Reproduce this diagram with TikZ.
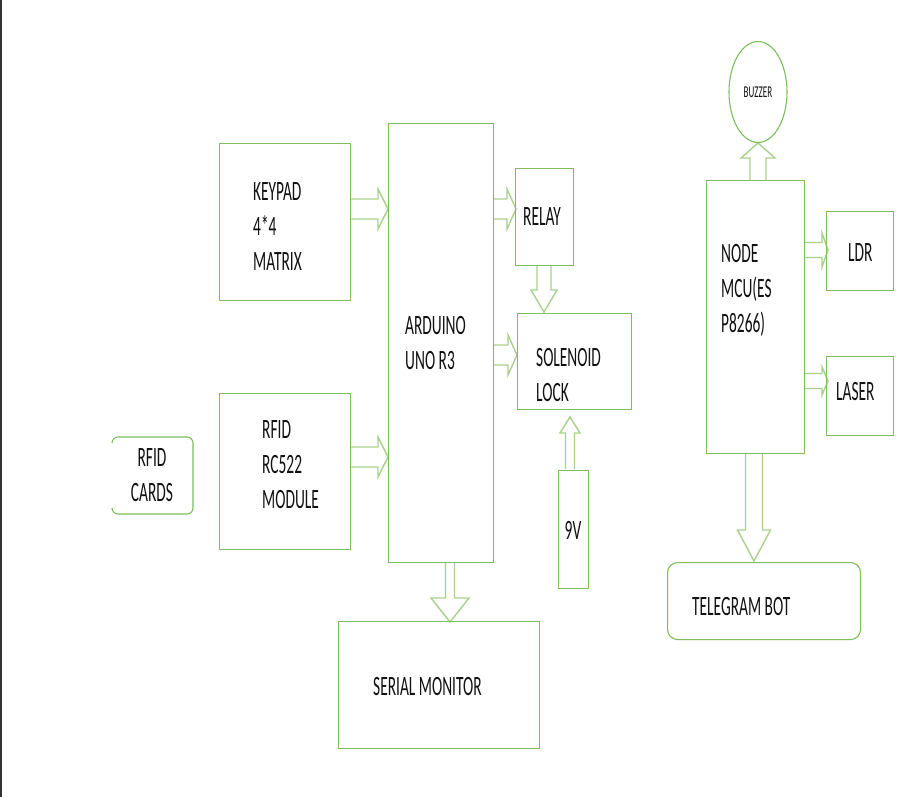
\documentclass[tikz,border=0pt]{standalone}
\usepackage{fontspec}
\usetikzlibrary{shapes.geometric}
\newfontfamily\cf[FakeStretch=0.55]{Carlito}
\definecolor{boxg}{HTML}{7DBE5A}
\definecolor{arrg}{HTML}{A9D18E}
\definecolor{txt}{HTML}{111111}
% horizontal block arrow pointing right: start x, tip x, y, shaft half width, head half width, head length
\newcommand\arR[6]{\draw[barrow] (#1,#3-#4) -- ({#2-(#6)},#3-#4) -- ({#2-(#6)},#3-#5) -- (#2,#3) -- ({#2-(#6)},#3+#5) -- ({#2-(#6)},#3+#4) -- (#1,#3+#4);}
% vertical block arrow: start y, tip y, x, shaft half width, head half width, head length (negative = upward)
\newcommand\arD[6]{\draw[barrow] (#3-#4,#1) -- (#3-#4,{#2-(#6)}) -- (#3-#5,{#2-(#6)}) -- (#3,#2) -- (#3+#5,{#2-(#6)}) -- (#3+#4,{#2-(#6)}) -- (#3+#4,#1);}
\begin{document}
\begin{tikzpicture}[x=1pt,y=-1pt,
  box/.style={draw=boxg,line width=1.1pt,inner sep=0,anchor=north west},
  lbl/.style={font=\cf\fontsize{28}{35}\selectfont,text=txt,align=left,anchor=west,inner sep=0},
  barrow/.style={draw=arrg,line width=1.4pt,fill=white,line join=miter}]
\useasboundingbox (0,0) rectangle (916,797);
\fill[white] (0,0) rectangle (916,797);
\draw[line width=2pt,color=black!80] (1,0) -- (1,797);

% block arrows
\arR{350}{388}{209}{10}{20}{10}
\arR{350}{388}{457}{10}{20}{10}
\arR{493}{516}{209}{10}{20}{9}
\arR{493}{517}{355}{10}{20}{9}
\arD{266}{312}{544}{7}{13}{22}
\arD{469}{417}{570}{4.5}{10}{-16}
\arD{562}{622}{450}{4.5}{19}{24}
\arD{180}{143}{758}{8}{17}{-15}
\arR{804}{828}{250}{7.5}{17}{6}
\arR{804}{828}{381}{7.5}{14}{6}
\arD{454}{561}{754}{8.5}{16.5}{31}

% boxes
\node[box,minimum width=131,minimum height=157] (keypad) at (219,143) {};
\node[box,minimum width=105,minimum height=439] (arduino) at (388,123) {};
\node[box,minimum width=131,minimum height=156] (rfid) at (219,393) {};
\node[box,minimum width=58,minimum height=97] (relay) at (515,168) {};
\node[box,minimum width=114,minimum height=96] (solenoid) at (517,313) {};
\node[box,minimum width=30,minimum height=118] (ninev) at (558,470) {};
\node[box,minimum width=201,minimum height=127] (serial) at (338,621) {};
\node[box,minimum width=98,minimum height=273] (nodemcu) at (706,180) {};
\node[box,minimum width=67,minimum height=79] (ldr) at (826,211) {};
\node[box,minimum width=67,minimum height=79] (laser) at (826,356) {};
\node[box,minimum width=193,minimum height=77,rounded corners=10] (telegram) at (667,562) {};
\node[draw=boxg,line width=1.1pt,ellipse,minimum width=58,minimum height=101,inner sep=0,
      font=\cf\fontsize{16.5}{19}\selectfont,text=txt] (buzzer) at (758,92) {BUZZER};
\draw[boxg,line width=1.1pt,rounded corners=6] (112,443) |- (193,437) |- (112,514) -- (112,508);

% labels
\node[lbl] (keypadtxt) at (253,227) {KEYPAD\\4*4\\MATRIX};
\node[lbl] (arduinotxt) at (405,343) {ARDUINO\\UNO R3};
\node[lbl] (rfidtxt) at (262,465) {RFID\\RC522\\MODULE};
\node[lbl,align=center,anchor=center] (cardstxt) at (152,475) {RFID\\CARDS};
\node[lbl] (relaytxt) at (523,217) {RELAY};
\node[lbl] (solenoidtxt) at (536,375) {SOLENOID\\LOCK};
\node[lbl,anchor=center] (ninevtxt) at (573,530) {9V};
\node[lbl] (serialtxt) at (373,687) {SERIAL MONITOR};
\node[lbl] (nodetxt) at (721,290) {NODE\\MCU(ES\\P8266)};
\node[lbl] (ldrtxt) at (848,253) {LDR};
\node[lbl] (lasertxt) at (836,392) {LASER};
\node[lbl] (telegramtxt) at (692,607) {TELEGRAM BOT};
\end{tikzpicture}
\end{document}
